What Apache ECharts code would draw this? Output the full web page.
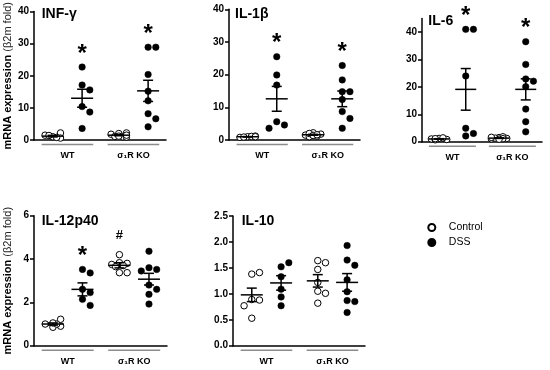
<!DOCTYPE html>
<html><head><meta charset="utf-8">
<script src="https://cdn.jsdelivr.net/npm/echarts@6/dist/echarts.min.js"></script>
<style>html,body{margin:0;padding:0;background:#fff}#c{width:550px;height:370px}</style>
</head><body><div id="c"></div>
<script>
// ---------- DATA ----------
const groupNames = ['WT', 'σ₁R KO'];
const seriesNames = ['Control', 'DSS'];
const panelTitles = ['INF-γ', 'IL-1β', 'IL-6', 'IL-12p40', 'IL-10'];

// INF-γ
const infWtCtrl = [1.0, 2.2, 1.5, 0.6, 0.8, 1.4];
const infWtDss  = [22.7, 17.1, 15.6, 10.4, 8.7, 3.6];
const infKoCtrl = [2.0, 2.2, 1.8, 1.0, 1.1, 0.9, 1.2, 1.5];
const infKoDss  = [28.9, 28.9, 20.4, 15.2, 12.2, 8.2, 6.6, 4.1];
const infMean = [1.2, 13.0, 1.5, 15.3];
const infSem  = [0.25, 2.8, 0.17, 3.3];
const infMarks = ['', '*', '', '*'];
const infTicks = [0, 10, 20, 30, 40];

// IL-1β
const il1WtCtrl = [1.0, 1.2, 0.8, 1.1, 0.9, 1.0];
const il1WtDss  = [25.5, 19.9, 16.8, 5.6, 4.6, 3.6];
const il1KoCtrl = [2.2, 1.8, 1.5, 1.2, 1.0, 2.0, 1.4, 1.6];
const il1KoDss  = [22.8, 18.4, 14.8, 14.8, 12.4, 8.7, 6.6, 3.6];
const il1Mean = [1.0, 12.6, 1.6, 12.6];
const il1Sem  = [0.06, 3.8, 0.14, 2.4];
const il1Marks = ['', '*', '', '*'];
const il1Ticks = [0, 10, 20, 30, 40];

// IL-6
const il6WtCtrl = [1.2, 0.8, 1.0, 1.4, 0.7, 1.1];
const il6WtDss  = [41.0, 41.0, 24.0, 4.9, 2.1, 3.0];
const il6KoCtrl = [1.5, 1.2, 1.0, 1.8, 1.3, 1.1, 1.6, 0.9];
const il6KoDss  = [36.5, 28.2, 22.9, 22.1, 20.1, 11.9, 7.3, 3.6];
const il6Mean = [1.0, 19.1, 1.3, 19.1];
const il6Sem  = [0.1, 7.6, 0.1, 3.85];
const il6Marks = ['', '*', '', '*'];
const il6Ticks = [0, 10, 20, 30, 40];

// IL-12p40
const il12WtCtrl = [0.85, 0.9, 1.0, 1.0, 1.05, 1.22];
const il12WtDss  = [3.52, 3.36, 2.6, 2.45, 2.14, 1.86];
const il12KoCtrl = [4.2, 3.83, 3.8, 3.75, 3.7, 3.65, 3.37, 3.37];
const il12KoDss  = [4.36, 3.6, 3.52, 3.45, 2.8, 2.6, 2.37, 1.92];
const il12Mean = [1.0, 2.6, 3.71, 3.07];
const il12Sem  = [0.05, 0.3, 0.12, 0.27];
const il12Marks = ['', '*', '#', ''];
const il12Ticks = [0, 2, 4, 6];

// IL-10
const il10WtCtrl = [1.38, 1.41, 0.89, 0.88, 0.77, 0.53];
const il10WtDss  = [1.52, 1.6, 1.33, 1.09, 0.94, 0.77];
const il10KoCtrl = [1.64, 1.6, 1.47, 1.22, 1.05, 1.01, 0.82];
const il10KoDss  = [1.93, 1.65, 1.55, 1.27, 1.04, 0.87, 0.85, 0.64];
const il10Mean = [0.98, 1.21, 1.25, 1.22];
const il10Sem  = [0.13, 0.14, 0.12, 0.17];
const il10Marks = ['', '', '', ''];
const il10Ticks = [0, 0.5, 1.0, 1.5, 2.0, 2.5];

// ---------- LAYOUT ----------
const FONT = 'Liberation Sans, Arial, Helvetica, sans-serif';
const groupPos = [1, 2, 3.25, 4.25];
const X_MIN = 0.36, X_MAX = 4.86;
const STEP_PX = 7.7, MIN_DIST = 7;
const panels = [
  { groups: [infWtCtrl, infWtDss, infKoCtrl, infKoDss], mean: infMean, sem: infSem, marks: infMarks, ticks: infTicks, max: 40, dec: 0,
    grid: { left: 34, top: 9.3, width: 132, height: 130.7 }, title: [41.7, 7.5], yName: true },
  { groups: [il1WtCtrl, il1WtDss, il1KoCtrl, il1KoDss], mean: il1Mean, sem: il1Sem, marks: il1Marks, ticks: il1Ticks, max: 40, dec: 0,
    grid: { left: 229, top: 9.3, width: 131, height: 130.7 }, title: [235, 7.5], yName: false },
  { groups: [il6WtCtrl, il6WtDss, il6KoCtrl, il6KoDss], mean: il6Mean, sem: il6Sem, marks: il6Marks, ticks: il6Ticks, max: 45, dec: 0,
    grid: { left: 422, top: 18.4, width: 120, height: 123.3 }, title: [428.3, 14.5], yName: false },
  { groups: [il12WtCtrl, il12WtDss, il12KoCtrl, il12KoDss], mean: il12Mean, sem: il12Sem, marks: il12Marks, ticks: il12Ticks, max: 6, dec: 0,
    grid: { left: 34, top: 215.7, width: 133, height: 130 }, title: [41.7, 214.5], yName: true },
  { groups: [il10WtCtrl, il10WtDss, il10KoCtrl, il10KoDss], mean: il10Mean, sem: il10Sem, marks: il10Marks, ticks: il10Ticks, max: 2.5, dec: 1,
    grid: { left: 233, top: 216, width: 132, height: 129.7 }, title: [241.7, 214.5], yName: false }
];

function swarm(values, pxY) {
  const placed = [];
  const cands = [0, 1, -1, 0.5, -0.5];
  return values.map(v => {
    const y = v * pxY;
    let best = 0, bestD = -1;
    for (const c of cands) {
      const x = c * STEP_PX;
      let d = Infinity;
      for (const p of placed) d = Math.min(d, Math.hypot(p[0] - x, p[1] - y));
      if (d >= MIN_DIST) { best = x; bestD = d; break; }
      if (d > bestD) { bestD = d; best = x; }
    }
    placed.push([best, y]);
    return best;
  });
}

const chart = echarts.init(document.getElementById('c'), null, { renderer: 'canvas' });
const grid = [], xAxis = [], yAxis = [], series = [], title = [];
const black = '#000';

panels.forEach((p, i) => {
  grid.push(Object.assign({ containLabel: false }, p.grid));
  const pxX = p.grid.width / (X_MAX - X_MIN);
  const pxY = p.grid.height / p.max;
  title.push({ text: panelTitles[i], left: p.title[0], top: p.title[1], padding: 0,
    textStyle: { fontSize: 14, fontWeight: 'bold', color: black, fontFamily: FONT } });
  xAxis.push({
    type: 'value', gridIndex: i, min: X_MIN, max: X_MAX,
    axisLine: { show: true, onZero: false, lineStyle: { color: black, width: 1.5 } },
    axisTick: { show: false }, splitLine: { show: false },
    axisLabel: { customValues: [(groupPos[0] + groupPos[1]) / 2, (groupPos[2] + groupPos[3]) / 2],
      formatter: v => (v < 2.6 ? groupNames[0] : groupNames[1]),
      fontWeight: 'bold', fontSize: 9, color: black, margin: 11, fontFamily: FONT }
  });
  const y = {
    type: 'value', gridIndex: i, min: 0, max: p.max,
    axisLine: { show: true, lineStyle: { color: black, width: 1.5 } },
    axisTick: { show: true, length: 4, customValues: p.ticks, lineStyle: { color: black, width: 1.5 } },
    axisLabel: { customValues: p.ticks, formatter: v => Number(v).toFixed(p.dec),
      fontWeight: 'bold', fontSize: 10, color: black, margin: 5, fontFamily: FONT },
    splitLine: { show: false }
  };
  if (p.yName) {
    Object.assign(y, {
      name: '{b|mRNA expression} {n|(β2m fold)}', nameLocation: 'middle', nameGap: 20.5,
      nameTextStyle: { fontFamily: FONT, color: black, fontSize: 11, rich: {
        b: { fontWeight: 'bold', fontSize: 11, fontFamily: FONT, color: black },
        n: { fontSize: 11, fontFamily: FONT, color: '#222' } } }
    });
  }
  yAxis.push(y);

  // scatter points
  [0, 1].forEach(kind => {
    const data = [];
    [kind, kind + 2].forEach(g => {
      const vals = p.groups[g];
      const offs = swarm(vals, pxY);
      vals.forEach((v, k) => data.push([groupPos[g] + offs[k] / pxX, v]));
    });
    series.push({
      name: seriesNames[kind], type: 'scatter', xAxisIndex: i, yAxisIndex: i,
      symbol: 'circle', symbolSize: 6.5, data, silent: true,
      itemStyle: kind === 0 ? { color: '#fff', borderColor: black, borderWidth: 1, opacity: 1 }
                            : { color: black, borderColor: black, borderWidth: 0.5, opacity: 1 },
      emphasis: { disabled: true }, z: 2
    });
  });

  // mean ± SEM
  series.push({
    name: 'sem' + i, type: 'custom', xAxisIndex: i, yAxisIndex: i, silent: true, z: 4,
    data: p.mean.map((m, g) => [g, m, p.sem[g]]),
    renderItem: (params, api) => {
      const g = api.value(0), m = api.value(1), s = api.value(2);
      const c = api.coord([groupPos[g], m]);
      const t = api.coord([groupPos[g], m + s]);
      const b = api.coord([groupPos[g], m - s]);
      const hw = i === 2 ? 10.5 : 11;
      const st = { stroke: black, lineWidth: 1.5 };
      return { type: 'group', children: [
        { type: 'line', shape: { x1: c[0] - hw, y1: c[1], x2: c[0] + hw, y2: c[1] }, style: st },
        { type: 'line', shape: { x1: c[0], y1: t[1], x2: c[0], y2: b[1] }, style: st },
        { type: 'line', shape: { x1: c[0] - 5, y1: t[1], x2: c[0] + 5, y2: t[1] }, style: st },
        { type: 'line', shape: { x1: c[0] - 5, y1: b[1], x2: c[0] + 5, y2: b[1] }, style: st }
      ] };
    }
  });

  // significance marks
  series.push({
    name: 'marks' + i, type: 'custom', xAxisIndex: i, yAxisIndex: i, silent: true, z: 5,
    data: p.marks.map((mk, g) => [g, Math.max.apply(null, p.groups[g]), mk]).filter(d => d[2]),
    renderItem: (params, api) => {
      const g = api.value(0);
      const mk = p.marks[g];
      const c = api.coord([groupPos[g], api.value(1)]);
      const isStar = mk === '*';
      return { type: 'text', x: c[0], y: c[1] - (isStar ? 13 : 19),
        style: { text: mk, fill: black, align: 'center', verticalAlign: 'middle',
          font: isStar ? 'bold 24px ' + FONT : 'bold 13px ' + FONT } };
    }
  });

  // group underlines
  series.push({
    name: 'under' + i, type: 'custom', xAxisIndex: i, yAxisIndex: i, silent: true, z: 1,
    data: [[0], [1]],
    renderItem: (params, api) => {
      const k = api.value(0);
      const cx = (groupPos[2 * k] + groupPos[2 * k + 1]) / 2;
      const a = api.coord([cx - 0.88, 0]);
      const b = api.coord([cx + 0.88, 0]);
      return { type: 'line', shape: { x1: a[0], y1: a[1] + 4.5, x2: b[0], y2: b[1] + 4.5 },
        style: { stroke: '#8c8c8c', lineWidth: 1.5 } };
    }
  });
});

chart.setOption({
  animation: false,
  backgroundColor: '#fff',
  textStyle: { fontFamily: FONT },
  title, grid, xAxis, yAxis, series,
  legend: {
    data: seriesNames, orient: 'vertical', left: 422.3, top: 217,
    itemWidth: 24, itemHeight: 7, itemGap: 4, icon: 'circle', selectedMode: false,
    textStyle: { fontSize: 10.5, color: black, fontFamily: FONT }
  }
});
</script></body></html>
